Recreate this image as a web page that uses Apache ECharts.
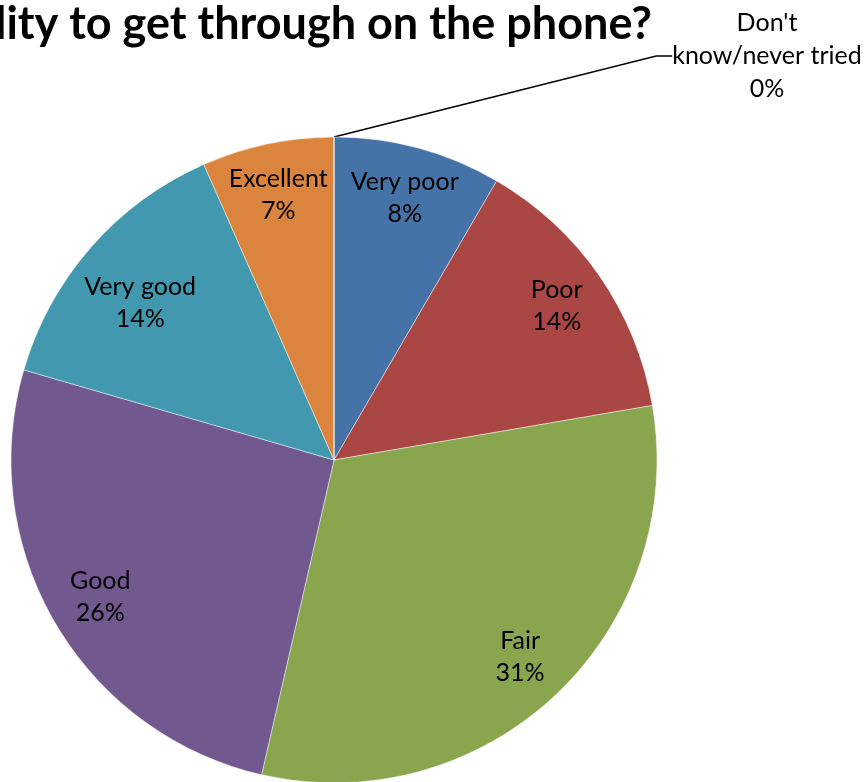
<!DOCTYPE html>
<html>
<head>
<meta charset="utf-8">
<script src="https://cdn.jsdelivr.net/npm/echarts@6/dist/echarts.min.js"></script>
<style>
  html, body { margin: 0; padding: 0; background: #ffffff; }
  #chart { width: 867px; height: 782px; }
</style>
</head>
<body>
<div id="chart"></div>
<script>
// Survey answers, clockwise from 12 o'clock
const categories = ['Very poor', 'Poor', 'Fair', 'Good', 'Very good', 'Excellent', "Don't\nknow/never tried"];
const shares = [8.4, 13.9, 31.3, 25.9, 13.9, 6.6, 0];
const sliceColors = ['#4572A7', '#AA4643', '#89A54E', '#71588F', '#4198AF', '#DB843D', '#93A9CF'];
const titleText = 'Ability to get through on the phone?';

const FONT = 'Lato, "Open Sans", sans-serif';
const OUTSIDE_INDEX = categories.length - 1; // the empty slice gets a callout

const pctLabel = p => p.name + '\n' + Math.round(p.percent) + '%';

const pieData = categories.map((name, i) => ({
  name: name,
  value: shares[i],
  itemStyle: { color: sliceColors[i] }
}));

const calloutData = pieData.map((d, i) => Object.assign({}, d, {
  label: { show: i === OUTSIDE_INDEX },
  labelLine: { show: i === OUTSIDE_INDEX }
}));

const insideLabelData = pieData.map((d, i) => ({
  name: d.name,
  value: d.value,
  label: { show: i !== OUTSIDE_INDEX }
}));

const chart = echarts.init(document.getElementById('chart'), null, { renderer: 'canvas' });

chart.setOption({
  animation: false,
  backgroundColor: '#ffffff',
  title: {
    text: titleText,
    right: 215,
    top: 2,
    padding: 0,
    textStyle: { fontFamily: FONT, fontWeight: 'bold', fontSize: 45, color: '#000000' }
  },
  series: [
    {
      // the pie itself, with the callout for the empty slice
      type: 'pie',
      center: [334, 460],
      radius: [0, 323],
      startAngle: 90,
      clockwise: true,
      avoidLabelOverlap: false,
      emphasis: { disabled: true },
      itemStyle: { borderColor: 'rgba(255,255,255,0.45)', borderWidth: 1 },
      data: calloutData,
      label: {
        position: 'outside',
        formatter: pctLabel,
        fontFamily: FONT,
        fontSize: 25,
        lineHeight: 33,
        color: '#000000',
        align: 'center'
      },
      labelLine: {
        length: 10,
        length2: 16,
        smooth: false,
        lineStyle: { color: '#000000', width: 1.3 }
      },
      labelLayout: function (params) {
        if (params.dataIndex === OUTSIDE_INDEX) {
          return { x: 767, y: 56, align: 'center', verticalAlign: 'middle' };
        }
      }
    },
    {
      // ring used only to place the in-slice labels
      type: 'pie',
      center: [334, 460],
      radius: [213, 323],
      startAngle: 90,
      clockwise: true,
      silent: true,
      avoidLabelOverlap: false,
      emphasis: { disabled: true },
      itemStyle: { color: 'rgba(0,0,0,0)', borderWidth: 0 },
      data: insideLabelData,
      label: {
        position: 'inside',
        formatter: pctLabel,
        fontFamily: FONT,
        fontSize: 25,
        lineHeight: 32,
        color: '#000000',
        align: 'center'
      },
      labelLine: { show: false },
      labelLayout: function (params) {
        if (params.dataIndex === 4) {
          return { dx: 10, dy: 22 };
        }
      }
    }
  ]
});
</script>
</body>
</html>
